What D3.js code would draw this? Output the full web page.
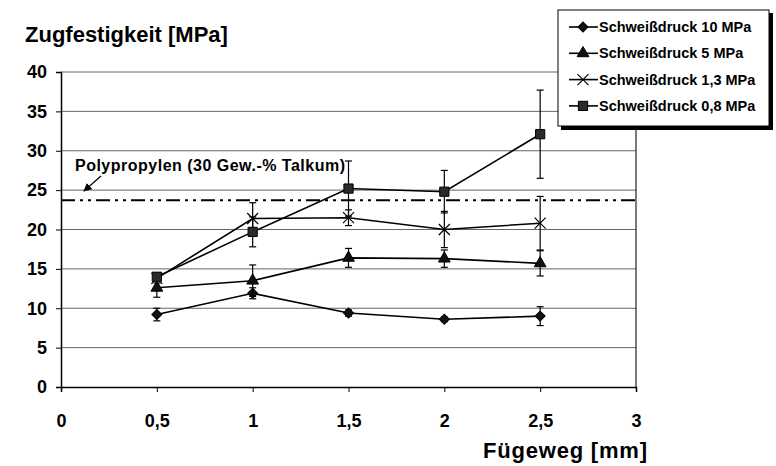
<!DOCTYPE html>
<html><head><meta charset="utf-8">
<script src="https://cdn.jsdelivr.net/npm/d3@7"></script>
<style>body{margin:0;background:#fff;} svg{display:block;font-family:"Liberation Sans",Arial,sans-serif;font-weight:bold;}</style>
</head><body>
<svg id="c" width="776" height="466"></svg>
<script>
const xValues = [0.5, 1, 1.5, 2, 2.5];
const seriesNames = ["Schweißdruck 10 MPa", "Schweißdruck 5 MPa", "Schweißdruck 1,3 MPa", "Schweißdruck 0,8 MPa"];
const s10 = [9.2, 11.9, 9.4, 8.6, 9.0];
const s10err = [0.8, 0.7, 0.4, 0.3, 1.2];
const s5 = [12.6, 13.5, 16.4, 16.3, 15.7];
const s5err = [1.2, 2.0, 1.2, 1.1, 1.6];
const s13 = [13.8, 21.4, 21.5, 20.0, 20.8];
const s13err = [0.6, 2.0, 1.0, 2.3, 3.4];
const s08 = [14.0, 19.7, 25.2, 24.8, 32.1];
const s08err = [0.5, 1.9, 3.5, 2.7, 5.6];
const xTicks = [0, 0.5, 1, 1.5, 2, 2.5, 3];
const yTicks = [0, 5, 10, 15, 20, 25, 30, 35, 40];
const refValue = 23.7;
const refLabel = "Polypropylen (30 Gew.-% Talkum)";
const yTitle = "Zugfestigkeit [MPa]";
const xTitle = "Fügeweg [mm]";

const series = [
  {name: seriesNames[0], vals: s10, err: s10err, sym: d3.symbolSquare, size: 50, rot: 45, fill: "#111"},
  {name: seriesNames[1], vals: s5, err: s5err, sym: d3.symbolTriangle, size: 60, rot: 0, fill: "#111"},
  {name: seriesNames[2], vals: s13, err: s13err, sym: "x", size: 0, rot: 0, fill: "none"},
  {name: seriesNames[3], vals: s08, err: s08err, sym: d3.symbolSquare, size: 85, rot: 0, fill: "#2a2a2a"}
];

const svg = d3.select("#c");
const x = d3.scaleLinear().domain([0, 3]).range([61, 636]);
const y = d3.scaleLinear().domain([0, 40]).range([387, 72]);

// gridlines
svg.append("g").selectAll("line").data(yTicks.filter(d => d > 0)).join("line")
  .attr("x1", x(0)).attr("x2", x(3)).attr("y1", d => y(d)).attr("y2", d => y(d))
  .attr("stroke", "#666").attr("stroke-width", 1);
// right border
svg.append("line").attr("x1", x(3)).attr("x2", x(3)).attr("y1", y(40)).attr("y2", y(0))
  .attr("stroke", "#222").attr("stroke-width", 1.2);

// axes
const yAxis = d3.axisLeft(y).tickValues(yTicks).tickSize(5).tickFormat(d3.format("d"));
const gy = svg.append("g").attr("transform", `translate(${x(0)},0)`).call(yAxis);
gy.select(".domain").attr("stroke", "#000").attr("stroke-width", 1.5);
gy.selectAll(".tick line").attr("stroke", "#000");
gy.selectAll(".tick text").attr("x", -14).attr("font-size", 18).attr("font-weight", "bold")
  .attr("font-family", "Liberation Sans, Arial, sans-serif").attr("fill", "#000");

const fmt = d => String(d).replace(".", ",");
const xAxis = d3.axisBottom(x).tickValues(xTicks).tickSize(5).tickFormat(fmt);
const gx = svg.append("g").attr("transform", `translate(0,${y(0)})`).call(xAxis);
gx.select(".domain").attr("stroke", "#000").attr("stroke-width", 1.5);
gx.selectAll(".tick line").attr("stroke", "#000");
gx.selectAll(".tick text").attr("y", 27).attr("font-size", 18).attr("font-weight", "bold")
  .attr("font-family", "Liberation Sans, Arial, sans-serif").attr("fill", "#000");

// titles
svg.append("text").attr("x", 25).attr("y", 42).attr("font-size", 22).text(yTitle);
svg.append("text").attr("x", 647).attr("y", 458).attr("text-anchor", "end").attr("font-size", 22)
  .attr("textLength", 164).text(xTitle);

// reference line
svg.append("line").attr("x1", x(0)).attr("x2", x(3)).attr("y1", y(refValue)).attr("y2", y(refValue))
  .attr("stroke", "#000").attr("stroke-width", 2).attr("stroke-dasharray", "14,5,3,5,3,5");
svg.append("text").attr("x", 75).attr("y", 171).attr("font-size", 16).attr("textLength", 270).text(refLabel);
// arrow
svg.append("defs").append("marker").attr("id", "ah").attr("viewBox", "0 0 10 10")
  .attr("refX", 9).attr("refY", 5).attr("markerWidth", 7).attr("markerHeight", 7).attr("orient", "auto")
  .append("path").attr("d", "M0,0L10,5L0,10z").attr("fill", "#000");
svg.append("line").attr("x1", 101).attr("y1", 176).attr("x2", 84).attr("y2", 191)
  .attr("stroke", "#000").attr("stroke-width", 1.2).attr("marker-end", "url(#ah)");

const line = d3.line().x((d, i) => x(xValues[i])).y(d => y(d));

function drawMarker(g, s, cx, cy) {
  if (s.sym === "x") {
    const r = 5.5;
    g.append("path").attr("d", `M${cx-r},${cy-r}L${cx+r},${cy+r}M${cx-r},${cy+r}L${cx+r},${cy-r}`)
      .attr("stroke", "#000").attr("stroke-width", 1.2).attr("fill", "none");
  } else {
    g.append("path").attr("d", d3.symbol().type(s.sym).size(s.size)())
      .attr("transform", `translate(${cx},${cy}) rotate(${s.rot})`)
      .attr("fill", s.fill).attr("stroke", "#000").attr("stroke-width", 1);
  }
}

series.forEach(s => {
  const g = svg.append("g");
  s.vals.forEach((v, i) => {
    const cx = x(xValues[i]), e = s.err[i];
    g.append("line").attr("x1", cx).attr("x2", cx).attr("y1", y(v - e)).attr("y2", y(v + e))
      .attr("stroke", "#000").attr("stroke-width", 1.2);
    [v - e, v + e].forEach(t => g.append("line").attr("x1", cx - 3.5).attr("x2", cx + 3.5)
      .attr("y1", y(t)).attr("y2", y(t)).attr("stroke", "#000").attr("stroke-width", 1.2));
  });
  g.append("path").attr("d", line(s.vals)).attr("fill", "none").attr("stroke", "#000").attr("stroke-width", 1.6);
  s.vals.forEach((v, i) => drawMarker(g, s, x(xValues[i]), y(v)));
});

// legend
const lg = svg.append("g");
lg.append("rect").attr("x", 561).attr("y", 13).attr("width", 212).attr("height", 117).attr("fill", "#000");
lg.append("rect").attr("x", 558).attr("y", 10).attr("width", 211).attr("height", 116)
  .attr("fill", "#fff").attr("stroke", "#000").attr("stroke-width", 1);
series.forEach((s, i) => {
  const ly = 27 + i * 26.3;
  lg.append("line").attr("x1", 569).attr("x2", 598).attr("y1", ly).attr("y2", ly)
    .attr("stroke", "#000").attr("stroke-width", 1.6);
  drawMarker(lg, s, 583, ly);
  lg.append("text").attr("x", 599).attr("y", ly + 5).attr("font-size", 14.5).text(s.name);
});
</script>
</body></html>
